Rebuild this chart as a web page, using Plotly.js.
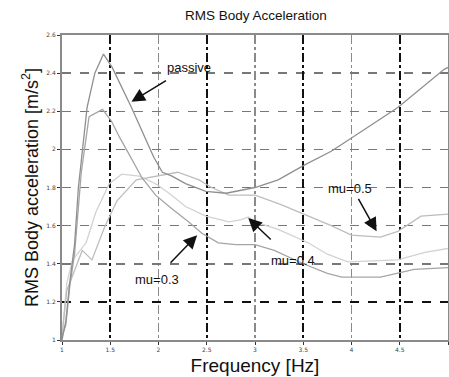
<!DOCTYPE html>
<html>
<head>
<meta charset="utf-8">
<script src="https://cdn.plot.ly/plotly-3.0.1.min.js"></script>
<style>html,body{margin:0;padding:0;background:#fff;}#chart{width:449px;height:377px;}</style>
</head>
<body>
<div id="chart"></div>
<script>
// Frequency [Hz] and RMS body acceleration [m/s^2]
const passiveX = [1.0, 1.04, 1.08, 1.13, 1.17, 1.26, 1.34, 1.43, 1.52, 1.72, 1.95, 2.04, 2.14, 2.28, 2.49, 2.7, 3.0, 3.24, 3.52, 3.79, 4.0, 4.48, 4.96, 5.0];
const passiveY = [1.0, 1.1, 1.3, 1.5, 1.8, 2.22, 2.4, 2.5, 2.43, 2.22, 1.96, 1.88, 1.86, 1.82, 1.78, 1.77, 1.8, 1.84, 1.92, 1.99, 2.06, 2.22, 2.42, 2.43];

const mu03X = [1.0, 1.04, 1.08, 1.13, 1.2, 1.25, 1.28, 1.31, 1.42, 1.51, 1.6, 1.7, 1.83, 1.97, 2.11, 2.31, 2.45, 2.62, 2.8, 3.0, 3.2, 3.5, 3.75, 3.9, 4.3, 4.65, 5.0];
const mu03Y = [1.02, 1.08, 1.28, 1.45, 1.88, 2.07, 2.17, 2.18, 2.21, 2.15, 2.06, 1.97, 1.85, 1.76, 1.7, 1.62, 1.56, 1.51, 1.5, 1.5, 1.47, 1.4, 1.35, 1.33, 1.33, 1.37, 1.38];

const mu04X = [1.0, 1.05, 1.11, 1.25, 1.35, 1.49, 1.62, 1.8, 1.97, 2.11, 2.28, 2.49, 2.73, 2.85, 2.93, 3.0, 3.24, 3.55, 3.75, 3.96, 4.48, 4.76, 5.0];
const mu04Y = [1.02, 1.3, 1.42, 1.51, 1.67, 1.82, 1.87, 1.86, 1.82, 1.77, 1.7, 1.65, 1.62, 1.63, 1.645, 1.62, 1.58, 1.51, 1.45, 1.41, 1.42, 1.46, 1.48];

const mu05X = [1.0, 1.05, 1.21, 1.31, 1.44, 1.57, 1.77, 2.0, 2.2, 2.42, 2.55, 2.73, 3.0, 3.27, 3.5, 3.79, 4.0, 4.3, 4.48, 4.72, 5.0];
const mu05Y = [1.02, 1.26, 1.47, 1.42, 1.59, 1.73, 1.84, 1.86, 1.88, 1.84, 1.8, 1.76, 1.76, 1.71, 1.66, 1.6, 1.55, 1.54, 1.57, 1.65, 1.66];

const xTicks = [1, 1.5, 2, 2.5, 3, 3.5, 4, 4.5, 5];
const xTickText = ['1', '1.5', '2', '2.5', '3', '3.5', '4', '4.5', '5'];
const yTicks = [1, 1.2, 1.4, 1.6, 1.8, 2, 2.2, 2.4, 2.6];
const yTickText = ['1', '1.2', '1.4', '1.6', '1.8', '2', '2.2', '2.4', '2.6'];
const darkGridX = [1.5, 2.5, 3.5, 4.5];
const darkGridY = [1.2];

// annotation labels and the curve points their arrows touch
const noteText = ['passive', 'mu=0.3', 'mu=0.4', 'mu=0.5'];
const noteTipX = [1.72, 2.4, 2.93, 4.26];
const noteTipY = [2.25, 1.55, 1.64, 1.57];

const FONT = '"Liberation Sans", Arial, sans-serif';

function line(x, y, color, name, xa, ya) {
  return {x: x, y: y, type: 'scatter', mode: 'lines', name: name,
    xaxis: xa || 'x', yaxis: ya || 'y',
    line: {color: color, width: 1.3, shape: 'linear'}, hoverinfo: 'skip'};
}

const data = [
  line(mu04X, mu04Y, '#d2d2d2', 'mu=0.4'),
  line(mu05X, mu05Y, '#bdbdbd', 'mu=0.5'),
  line(mu03X, mu03Y, '#a5a5a5', 'mu=0.3', 'x2', 'y2'),
  line(passiveX, passiveY, '#8f8f8f', 'passive', 'x2', 'y2')
];

const tickFont = {family: 'DejaVu Sans', size: 6, color: '#444'};

// pixel offsets: arrow tail from tip, and text centre from tip
const tailDX = [36, -28, 24, -19];
const tailDY = [-22, 29, 23, -34];
const textDX = [58, -40, 45, -27];
const textDY = [34, -44, -42, 43];

const annotations = [];
noteText.forEach(function (t, i) {
  annotations.push({x: noteTipX[i], y: noteTipY[i], xref: 'x', yref: 'y', text: '',
    ax: tailDX[i], ay: tailDY[i], showarrow: true, arrowhead: 2, arrowsize: 1.8,
    arrowwidth: 1.5, arrowcolor: '#111'});
  annotations.push({x: noteTipX[i], y: noteTipY[i], xref: 'x', yref: 'y', text: t,
    showarrow: false, xshift: textDX[i], yshift: textDY[i],
    font: {family: FONT, size: 13, color: '#111'}});
});

const layout = {
  width: 449, height: 377,
  margin: {l: 62, r: 1, t: 35, b: 37},
  paper_bgcolor: '#fff', plot_bgcolor: '#fff',
  showlegend: false,
  title: {text: 'RMS Body Acceleration', font: {family: FONT, size: 13.5, color: '#111'},
    x: 0.57, xanchor: 'center', y: 0.972, yanchor: 'top'},
  xaxis: {
    range: [1, 5], tickvals: xTicks, ticktext: xTickText, tickfont: tickFont,
    showgrid: true, gridcolor: '#8a8a8a', griddash: 'dashdot', gridwidth: 1.3,
    showline: true, linecolor: '#8a8a8a', linewidth: 2, mirror: true,
    ticks: 'outside', ticklen: 3, tickcolor: '#333', zeroline: false,
    title: {text: 'Frequency [Hz]', font: {family: FONT, size: 19, color: '#111'}, standoff: 6}
  },
  yaxis: {
    range: [1, 2.6], tickvals: yTicks, ticktext: yTickText, tickfont: tickFont,
    showgrid: true, gridcolor: '#777', griddash: 'dash', gridwidth: 1.5,
    showline: true, linecolor: '#8a8a8a', linewidth: 2, mirror: true,
    ticks: 'outside', ticklen: 3, tickcolor: '#333', zeroline: false,
    title: {text: 'RMS Body acceleration [m/s<sup>2</sup>]', font: {family: FONT, size: 18, color: '#111'}, standoff: 3}
  },
  xaxis2: {
    overlaying: 'x', matches: 'x', range: [1, 5], tickvals: darkGridX, showticklabels: false,
    showgrid: true, gridcolor: '#111', griddash: 'dashdot', gridwidth: 2, showline: false, zeroline: false, ticks: ''
  },
  yaxis2: {
    overlaying: 'y', matches: 'y', range: [1, 2.6], tickvals: darkGridY, showticklabels: false,
    showgrid: true, gridcolor: '#111', griddash: 'dash', gridwidth: 2, showline: false, zeroline: false, ticks: ''
  },
  annotations: annotations
};

Plotly.newPlot('chart', data, layout, {staticPlot: true, displayModeBar: false});
</script>
</body>
</html>
